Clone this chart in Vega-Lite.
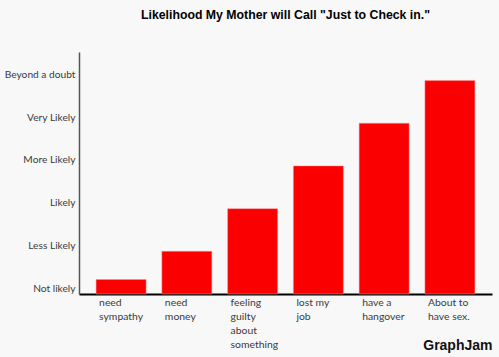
{
  "$schema": "https://vega.github.io/schema/vega-lite/v6.json",
  "width": 413,
  "height": 242,
  "autosize": {"type": "none"},
  "padding": {"left": 79, "top": 52, "right": 7, "bottom": 63},
  "background": "#f8f8f8",
  "title": {
    "text": "Likelihood My Mother will Call \"Just to Check in.\"",
    "font": "Liberation Sans",
    "fontSize": 12.3,
    "fontWeight": "bold",
    "color": "#000000",
    "anchor": "middle",
    "offset": 31
  },
  "config": {"view": {"stroke": null}},
  "data": {
    "values": [
      {"reason": "need\nsympathy", "likelihood": 0.34},
      {"reason": "need\nmoney", "likelihood": 1.0},
      {"reason": "feeling\nguilty\nabout\nsomething", "likelihood": 2.0},
      {"reason": "lost my\njob", "likelihood": 3.0},
      {"reason": "have a\nhangover", "likelihood": 4.0},
      {"reason": "About to\nhave sex.", "likelihood": 5.0}
    ]
  },
  "mark": {"type": "bar", "color": "#fa0000", "stroke": "#ff9090", "strokeWidth": 0.5},
  "encoding": {
    "x": {
      "field": "reason",
      "type": "nominal",
      "sort": null,
      "scale": {"paddingInner": 0.24, "paddingOuter": 0.26},
      "axis": {
        "title": "GraphJam",
        "titleAnchor": "end",
        "titleAlign": "right",
        "titleBaseline": "middle",
        "titleY": 51,
        "titleFont": "Liberation Sans",
        "titleFontSize": 14,
        "titleFontWeight": "bold",
        "titleColor": "#111111",
        "labelExpr": "split(datum.value, '\\n')",
        "labelAngle": 0,
        "labelAlign": "left",
        "labelBaseline": "top",
        "labelOffset": -22,
        "labelPadding": 3,
        "labelFont": "Lato",
        "labelFontSize": 10.4,
        "labelLineHeight": 14,
        "labelColor": "#3a3a3a",
        "ticks": false,
        "domainColor": "#000000",
        "domainWidth": 2
      }
    },
    "y": {
      "field": "likelihood",
      "type": "quantitative",
      "scale": {"domain": [0, 5.67], "nice": false},
      "axis": {
        "title": null,
        "values": [0, 1, 2, 3, 4, 5],
        "labelExpr": "['Not likely','Less Likely','Likely','More Likely','Very Likely','Beyond a doubt'][datum.value]",
        "labelOffset": -6,
        "labelPadding": 4,
        "labelFont": "Lato",
        "labelFontSize": 10.2,
        "labelColor": "#3a3a3a",
        "ticks": false,
        "grid": false,
        "domainColor": "#555555",
        "domainWidth": 1.5
      }
    }
  }
}
